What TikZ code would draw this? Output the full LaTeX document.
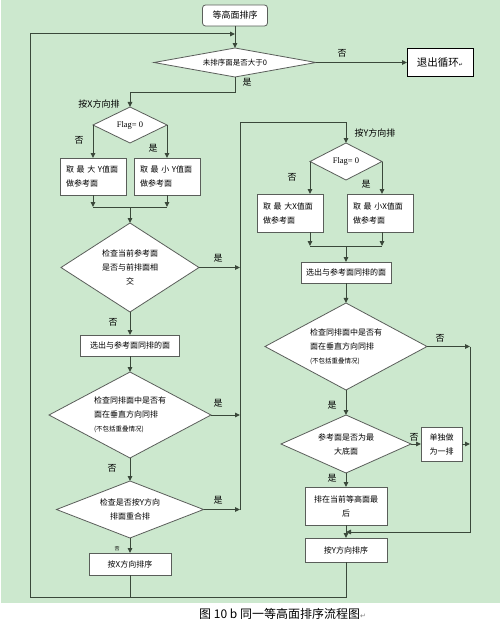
\documentclass[tikz,border=0pt]{standalone}
\usepackage{fontspec}
\setmainfont{Liberation Serif}
\newfontfamily\cjkfont{Noto Sans CJK SC}
\newfontfamily\symfont{DejaVu Sans}
\usepackage{xcolor}
\usetikzlibrary{shapes.geometric,arrows.meta}
\definecolor{bggreen}{RGB}{204,232,206}
\definecolor{linec}{RGB}{58,72,58}
\definecolor{boxc}{RGB}{90,94,90}

\begin{document}
\begin{tikzpicture}[x=1pt, y=-1pt, >={Triangle[length=5pt,width=4.5pt]},
    conn/.style={draw=linec, line width=1pt},
    box/.style={draw=boxc, fill=white, line width=0.8pt, inner sep=0pt, outer sep=0pt,
        align=center, font=\cjkfont\fontsize{8}{14}\selectfont},
    rbox/.style={box, rounded corners=3pt},
    dia/.style={box, diamond, shape aspect=2},
    lbl/.style={font=\cjkfont\fontsize{9}{10}\selectfont, inner sep=0pt}]

    \useasboundingbox (0,0) rectangle (500,626);
    \fill[bggreen] (1,0) rectangle (500,603);

    % top
    \node[rbox, minimum width=65, minimum height=21, font=\cjkfont\fontsize{9}{10}\selectfont] (sort) at (235,15.5) {等高面排序};
    \node[dia, shape aspect=5, minimum width=162, minimum height=29, font=\cjkfont\fontsize{7.5}{9}\selectfont] (loop) at (235,62.5) {未排序面是否大于0};
    \node[box, draw=black, minimum width=66, minimum height=28, font=\cjkfont\fontsize{10.5}{12}\selectfont] (quit) at (440,62.5) {退出循环{\symfont\fontsize{5}{6}\selectfont ↵}};

    % left column (X)
    \node[dia, minimum width=74, minimum height=36, font=\fontsize{8.5}{10}\selectfont] (flagx) at (130,125) {Flag= 0};
    \node[box, minimum width=66, minimum height=37, align=left, text width=54] (maxy) at (93,176.5) {取 最 大 Y值面\\做参考面};
    \node[box, minimum width=66, minimum height=37, align=left, text width=54] (miny) at (167,176.5) {取 最 小 Y值面\\做参考面};
    \node[dia, minimum width=138, minimum height=89] (crossx) at (130,267.5) {检查当前参考面\\是否与前排面相\\交};
    \node[box, minimum width=99, minimum height=21] (pickx) at (130,345.5) {选出与参考面同排的面};
    \node[dia, minimum width=162, minimum height=86, align=left] (vertx) at (130,415) {检查同排面中是否有\\面在垂直方向同排\\{\fontsize{6.5}{8}\selectfont (不包括重叠情况)}};
    \node[dia, minimum width=147, minimum height=57] (ychk) at (130,509.5) {检查是否按Y方向\\排面重合排};
    \node[box, minimum width=82, minimum height=22] (sortx) at (130,564) {按X方向排序};

    % right column (Y)
    \node[dia, minimum width=72, minimum height=37, font=\fontsize{8.5}{10}\selectfont] (flagy) at (346,161.5) {Flag= 0};
    \node[box, minimum width=66, minimum height=38, align=left, text width=54] (maxx) at (290,213) {取 最 大X值面\\做参考面};
    \node[box, minimum width=66, minimum height=38, align=left, text width=54] (minx) at (380,213) {取 最 小X值面\\做参考面};
    \node[box, minimum width=90, minimum height=21] (picky) at (346,272.5) {选出与参考面同排的面};
    \node[dia, minimum width=162, minimum height=87, align=left] (verty) at (346,346.5) {检查同排面中是否有\\面在垂直方向同排\\{\fontsize{6.5}{8}\selectfont (不包括重叠情况)}};
    \node[dia, minimum width=130, minimum height=58] (base) at (346,444) {参考面是否为最\\大底面};
    \node[box, minimum width=41, minimum height=34] (single) at (441.5,444) {单独做\\为一排};
    \node[box, minimum width=82, minimum height=38] (last) at (346,506) {排在当前等高面最\\后};
    \node[box, minimum width=82, minimum height=24] (sorty) at (346,550) {按Y方向排序};

    % corners
    \coordinate (yes1) at (235,92);
    \coordinate (lt) at (30,34);
    \coordinate (lb) at (30,597);
    \coordinate (st) at (240,122);
    \coordinate (rt) at (470,346.5);
    \coordinate (rb) at (470,532);
    \coordinate (jx) at (130,207);
    \coordinate (jy) at (346,246);

    % labels
    \node[lbl] (no1) at (342,53) {否};
    \node[lbl] (yes1l) at (247,82) {是};
    \node[lbl] (dirx) at (99,104) {按X方向排};
    \node[lbl] (no2) at (79,140) {否};
    \node[lbl] (yes2) at (153,148) {是};
    \node[lbl] (yes3) at (218,258) {是};
    \node[lbl] (no3) at (113,322) {否};
    \node[lbl] (yes4) at (218,403) {是};
    \node[lbl] (no4) at (112,468) {否};
    \node[lbl] (yes5) at (218,500) {是};
    \node[lbl, font=\cjkfont\fontsize{5}{6}\selectfont] (no5) at (117,549) {否};
    \node[lbl] (diry) at (375,133) {按Y方向排};
    \node[lbl] (no6) at (292,177) {否};
    \node[lbl] (yes6) at (366,184) {是};
    \node[lbl] (no7) at (440,338) {否};
    \node[lbl] (yes7) at (332,405) {是};
    \node[lbl] (no8) at (414,437) {否};
    \node[lbl] (yes8) at (332,478) {是};

    % connectors
    \draw[conn,->] (sort) -- (loop);
    \draw[conn,->] (loop) -- (quit);
    \draw[conn,->] (loop) -- (yes1) -| (flagx);
    \draw[conn,->] (sorty) |- (lb) -- (lt) -- (lt -| sort);

    \draw[conn,->] (flagx.west) -- (flagx.west |- maxy.north);
    \draw[conn,->] (flagx.east) -- (flagx.east |- miny.north);
    \draw[conn,->] (maxy) -- (maxy |- jx);
    \draw[conn,->] (miny) -- (miny |- jx);
    \draw[conn] (maxy |- jx) -- (miny |- jx);
    \draw[conn,->] (jx) -- (crossx);
    \draw[conn,->] (crossx) -- (pickx);
    \draw[conn,->] (pickx) -- (vertx);
    \draw[conn,->] (vertx) -- (ychk);
    \draw[conn,->] (ychk) -- (sortx);
    \draw[conn] (sortx) -- (sortx |- lb);

    \draw[conn,->] (crossx) -- (crossx -| st);
    \draw[conn,->] (vertx) -- (vertx -| st);
    \draw[conn,->] (ychk) -- (ychk -| st);
    \draw[conn,->] (ychk -| st) -- (st) -| (flagy);

    \draw[conn,->] (flagy.west) -- (flagy.west |- maxx.north);
    \draw[conn,->] (flagy.east) -- (flagy.east |- minx.north);
    \draw[conn,->] (flagy.west |- maxx.south) -- (flagy.west |- jy);
    \draw[conn,->] (flagy.east |- minx.south) -- (flagy.east |- jy);
    \draw[conn] (flagy.west |- jy) -- (flagy.east |- jy);
    \draw[conn,->] (jy) -- (picky);
    \draw[conn,->] (picky) -- (verty);
    \draw[conn,->] (verty) -- (base);
    \draw[conn,->] (base) -- (single);
    \draw[conn,->] (base) -- (last);
    \draw[conn,->] (last) -- (sorty);

    \draw[conn,->] (verty) -- (rt);
    \draw[conn,->] (single) -- (single -| rt);
    \draw[conn,->] (rt) -- (rb) -- (rb -| sorty);

    % caption
    \node[anchor=west, inner sep=0pt, font=\cjkfont\fontsize{12}{14}\selectfont] (cap) at (199,614) {图 10 b 同一等高面排序流程图{\symfont\fontsize{7}{8}\selectfont\color{gray}↵}};
\end{tikzpicture}
\end{document}
